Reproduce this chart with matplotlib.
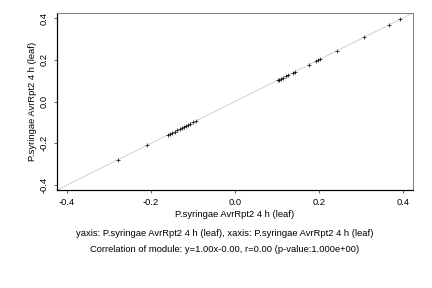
import matplotlib
matplotlib.use("Agg")
import matplotlib.pyplot as plt

# Module gene values, same trait on both axes
x_vals = [-0.279, -0.210, -0.160, -0.155, -0.150, -0.144, -0.138, -0.132, -0.126,
          -0.121, -0.117, -0.112, -0.107, -0.100, -0.093,
          0.102, 0.105, 0.110, 0.114, 0.121, 0.126, 0.138, 0.143,
          0.176, 0.193, 0.198, 0.202, 0.243, 0.307, 0.367, 0.393]
y_vals = list(x_vals)

ticks = [-0.4, -0.2, 0.0, 0.2, 0.4]
tick_labels = ["-0.4", "-0.2", "0.0", "0.2", "0.4"]
trait = "P.syringae AvrRpt2 4 h (leaf)"
caption1 = "yaxis: P.syringae AvrRpt2 4 h (leaf), xaxis: P.syringae AvrRpt2 4 h (leaf)"
caption2 = "Correlation of module: y=1.00x-0.00, r=0.00 (p-value:1.000e+00)"

plt.rcParams["font.family"] = ["Liberation Sans", "DejaVu Sans"]
plt.rcParams["font.size"] = 9.4

fig = plt.figure(figsize=(6, 4), dpi=72)
ax = fig.add_axes([57 / 432, 1 - 190 / 288, 356 / 432, 177 / 288])

lim = 0.424
ax.plot([-lim, lim], [-lim, lim], color="#c8c8c8", linewidth=0.8, zorder=1)
ax.scatter(x_vals, y_vals, marker="+", color="black", s=16, linewidths=0.7, zorder=2)

ax.set_xlim(-lim, lim)
ax.set_ylim(-lim, lim)
ax.set_xticks(ticks)
ax.set_xticklabels(tick_labels)
ax.set_yticks(ticks)
ax.set_yticklabels(tick_labels, rotation=90, va="center")
ax.tick_params(direction="out", length=3, width=0.6, pad=5)

for side in ["left", "bottom"]:
    ax.spines[side].set_color("black")
    ax.spines[side].set_linewidth(1.2)
for side in ["top", "right"]:
    ax.spines[side].set_color("#808080")
    ax.spines[side].set_linewidth(1.0)

ax.set_xlabel(trait, labelpad=3)
ax.set_ylabel(trait, labelpad=3)

fig.text(225 / 432, 1 - 234 / 288, caption1, ha="center", va="center")
fig.text(225 / 432, 1 - 250 / 288, caption2, ha="center", va="center")

fig.savefig("out.png", dpi=72)
